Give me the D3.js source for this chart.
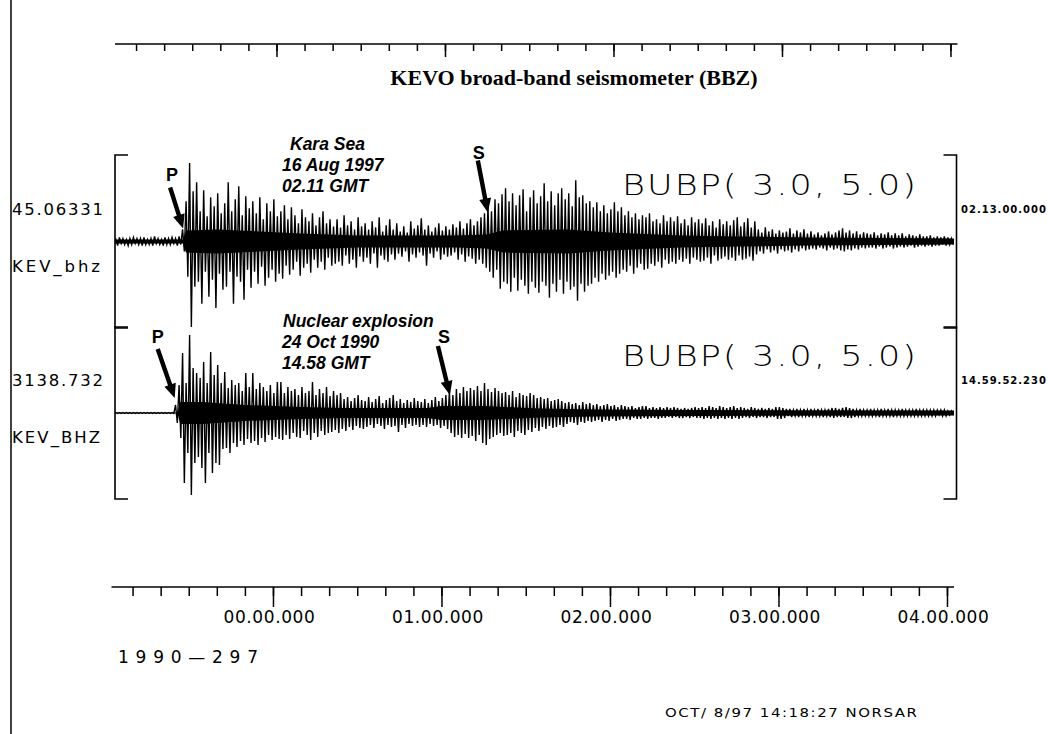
<!DOCTYPE html>
<html>
<head>
<meta charset="utf-8">
<script src="https://cdnjs.cloudflare.com/ajax/libs/d3/7.8.5/d3.min.js"></script>
<style>
body { margin: 0; background: #fff; }
svg { display: block; }
</style>
</head>
<body>
<div id="chart"></div>
<script>
// time in seconds relative to 00.00.000, one bin = 1.25 s (8 bins per 10 s line below)
var timeStart = -57.5, timeEnd = 242.5, binSec = 1.25;
var tickMinor = d3.range(-50, 241, 10);
var tickMajor = [0, 60, 120, 180, 240];

// Kara Sea, 16 Aug 1997 (KEV_bhz) - max / min of each bin, relative amplitude
var karaUp = [
    3,2,4,3,2,3,4,3,  3,4,2,3,5,3,2,4,  3,4,3,5,12,40,78,50,
    59,30,51,25,44,35,48,28,  38,59,30,42,55,26,45,33,  40,28,44,22,38,30,42,25,
    30,36,22,34,26,18,32,24,  20,28,16,24,30,18,22,15,  22,14,26,16,20,12,24,15,
    18,12,20,14,24,10,16,22,  12,18,10,15,9,20,13,16,  23,12,16,10,14,18,11,15,
    12,17,14,20,13,18,22,16,  20,24,28,35,30,42,38,47,  53,40,48,36,46,52,30,44,
    51,38,45,58,40,50,36,48,  53,42,48,35,61,44,46,38,  40,34,39,30,36,28,32,39,
    30,34,26,30,24,28,22,26,  24,28,20,22,18,26,20,24,  20,25,18,22,16,24,19,22,
    18,23,16,20,14,22,17,20,  16,21,24,15,19,23,14,20,  12,9,14,10,12,8,11,9,
    10,13,8,11,9,12,8,10,  7,9,6,8,10,7,9,11,  13,9,11,8,10,7,9,8,
    7,9,6,8,7,9,6,8,  6,8,5,7,6,5,7,5,  5,6,4,5,4,5,4,3];
var karaDn = [
    -3,-4,-2,-3,-4,-3,-2,-3,  -4,-3,-3,-4,-2,-3,-4,-3,  -3,-2,-4,-3,-10,-35,-85,-45,
    -40,-62,-30,-55,-38,-66,-32,-48,  -45,-30,-62,-35,-40,-58,-28,-46,  -30,-42,-25,-44,-36,-28,-40,-32,
    -37,-24,-33,-28,-20,-34,-26,-22,  -31,-18,-26,-20,-28,-16,-24,-22,  -20,-24,-14,-22,-18,-26,-15,-20,
    -16,-22,-12,-26,-14,-18,-20,-13,  -18,-12,-15,-10,-20,-13,-16,-11,  -14,-24,-12,-16,-10,-18,-13,-15,
    -14,-11,-18,-13,-20,-15,-17,-22,  -18,-22,-26,-30,-36,-28,-47,-40,  -42,-50,-36,-49,-38,-44,-52,-40,
    -46,-51,-40,-44,-56,-42,-50,-38,  -52,-40,-48,-45,-59,-42,-50,-44,  -42,-36,-40,-32,-38,-34,-30,-36,
    -32,-28,-30,-24,-32,-26,-22,-28,  -27,-22,-24,-20,-26,-18,-22,-20,  -22,-18,-20,-17,-22,-16,-18,-20,
    -19,-16,-22,-14,-19,-17,-15,-18,  -16,-19,-14,-18,-17,-15,-19,-13,  -10,-12,-8,-11,-9,-12,-8,-10,
    -9,-11,-8,-10,-7,-9,-8,-7,  -8,-6,-7,-9,-6,-8,-7,-9,  -10,-8,-9,-7,-8,-6,-7,-6,
    -6,-7,-5,-7,-6,-5,-7,-6,  -5,-6,-5,-4,-6,-5,-4,-5,  -4,-5,-4,-4,-3,-4,-3,-3];
// dense band around the trace baseline (half width)
var karaCoreT = [-57.5, -32, -31, -20, -5, 10, 30, 65, 76, 82, 105, 120, 145, 165, 190, 215, 242.5];
var karaCoreA = [2, 2, 11, 12, 10, 8, 6, 6, 7, 11, 12, 9, 6, 5, 4, 3.5, 3];

// Nuclear explosion, 24 Oct 1990 (KEV_BHZ)
var nucUp = [
    0.5,0.5,0.5,0.5,0.5,0.5,0.5,0.5,  0.5,0.5,0.5,0.5,0.5,0.5,0.5,0.5,  0.5,0.5,8,28,60,30,78,45,
    40,35,51,30,61,38,48,30,  41,25,33,28,30,22,40,26,  40,24,30,26,22,28,20,31,
    31,20,26,22,24,18,26,20,  22,31,18,24,20,26,17,22,  18,20,14,16,12,15,18,13,
    12,16,11,14,17,10,13,15,  18,12,14,10,13,11,15,12,  11,14,10,13,16,12,15,18,
    22,18,24,20,26,22,25,23,  27,22,30,24,21,25,22,20,  21,18,22,16,20,18,17,20,
    18,15,16,14,15,12,13,14,  12,10,11,9,10,8,11,9,  10,8,9,7,8,9,7,8,
    6,8,7,6,7,5,6,7,  7,5,6,5,6,5,6,5,  6,5,4,5,4,5,6,5,
    6,5,7,6,5,7,6,5,  6,7,5,6,5,4,6,5,  4,5,4,5,4,6,6,5,
    4,4,3,4,3,4,3,4,  3,4,3,3,4,5,5,4,  5,6,5,4,3,4,3,3,
    4,3,3,4,3,4,3,3,  3,4,3,3,3,4,3,3,  3,3,3,3,3,3,2,2];
var nucDn = [
    -0.5,-0.5,-0.5,-0.5,-0.5,-0.5,-0.5,-0.5,  -0.5,-0.5,-0.5,-0.5,-0.5,-0.5,-0.5,-0.5,  -0.5,-0.5,-10,-25,-70,-40,-82,-50,
    -44,-55,-70,-40,-60,-50,-52,-36,  -35,-40,-30,-34,-28,-32,-26,-30,  -28,-32,-25,-29,-22,-27,-24,-26,
    -27,-22,-26,-20,-24,-25,-18,-22,  -27,-20,-24,-18,-22,-20,-19,-17,  -20,-16,-18,-14,-17,-13,-15,-16,
    -14,-12,-15,-11,-13,-16,-12,-14,  -13,-19,-12,-15,-11,-13,-12,-14,  -12,-14,-11,-13,-12,-15,-13,-16,
    -20,-24,-22,-25,-21,-25,-23,-28,  -22,-30,-32,-26,-24,-22,-20,-23,  -22,-20,-24,-18,-20,-22,-17,-19,
    -15,-18,-14,-16,-13,-15,-14,-12,  -14,-11,-9,-10,-12,-9,-10,-8,  -9,-8,-7,-9,-7,-8,-6,-8,
    -7,-6,-6,-7,-5,-6,-6,-5,  -6,-5,-5,-6,-5,-5,-4,-5,  -4,-5,-5,-4,-5,-4,-5,-5,
    -6,-5,-6,-5,-6,-5,-6,-5,  -6,-5,-6,-5,-4,-5,-4,-5,  -4,-4,-5,-4,-4,-6,-6,-5,
    -3,-4,-3,-4,-3,-3,-4,-3,  -3,-3,-4,-3,-4,-5,-4,-4,  -4,-5,-5,-4,-3,-3,-3,-3,
    -3,-3,-4,-3,-3,-3,-4,-3,  -3,-3,-3,-3,-3,-3,-3,-3,  -3,-3,-3,-2,-3,-3,-2,-2];
var nucCoreT = [-57.5, -34, -33, -25, -10, 10, 25, 55, 60, 75, 95, 115, 150, 242.5];
var nucCoreA = [0.5, 0.5, 11, 11, 8, 6, 5, 5, 7, 7, 4.5, 3.5, 3, 2.5];

// phase picks (s)
var karaPicks = [{phase: "P", t: -32}, {phase: "S", t: 76.5}];
var nucPicks = [{phase: "P", t: -35}, {phase: "S", t: 63}];

var W = 1048, H = 734;
var ampMax = 86;

var svg = d3.select("#chart").append("svg")
    .attr("width", W)
    .attr("height", H);

var x = d3.scaleLinear().domain([timeStart, timeEnd]).range([111.5, 954]);
var xTop = d3.scaleLinear().domain([timeStart, timeEnd]).range([115, 957.5]);

// frame
svg.append("line").attr("x1", 11).attr("x2", 11).attr("y1", 0).attr("y2", H)
    .attr("stroke", "#000").attr("stroke-width", 1.5);

// title
svg.append("text")
    .attr("x", 574).attr("y", 85)
    .attr("text-anchor", "middle")
    .style("font-family", "'Liberation Serif', 'Times New Roman', serif")
    .style("font-weight", "bold")
    .style("font-size", "22px")
    .text("KEVO broad-band seismometer (BBZ)");

function fmtTime(t) {
    var m = Math.floor(t / 60), s = t - m * 60;
    return d3.format("02d")(m) + "." + d3.format("02d")(s) + ".000";
}

function drawAxis(scale, y, minorLen, majorLen, labels) {
    var g = svg.append("g").attr("transform", "translate(0," + y + ")");
    g.append("g")
        .call(d3.axisBottom(scale).tickValues(tickMinor).tickSize(minorLen).tickSizeOuter(0).tickFormat(""))
        .call(function(a) { a.select(".domain").remove(); a.selectAll(".tick line").attr("stroke-width", 1.5); });
    var major = g.append("g")
        .call(d3.axisBottom(scale).tickValues(tickMajor).tickSize(majorLen).tickSizeOuter(0)
            .tickFormat(labels ? fmtTime : ""));
    major.select(".domain").remove();
    major.selectAll(".tick line").attr("stroke-width", 1.5);
    major.selectAll(".tick text")
        .attr("dy", 0).attr("y", majorLen + 16).attr("x", -4)
        .style("font-family", "'DejaVu Sans', sans-serif")
        .style("font-size", "17px")
        .style("letter-spacing", "0.6px");
    return g;
}

// axis line spans the whole window
function axisLine(scale, y) {
    svg.append("line")
        .attr("x1", scale(timeStart)).attr("x2", scale(timeEnd))
        .attr("y1", y).attr("y2", y)
        .attr("stroke", "#000").attr("stroke-width", 1.6);
}

axisLine(xTop, 44);
drawAxis(xTop, 44, 7, 13, false);
axisLine(x, 587);
drawAxis(x, 587, 9, 20, true);

function wideText(g, xPos, yPos, str, size, width, stretch) {
    return g.append("text")
        .attr("transform", "translate(" + xPos + "," + yPos + ") scale(" + stretch + ",1)")
        .attr("textLength", width / stretch).attr("lengthAdjust", "spacing")
        .style("font-family", "'DejaVu Sans', sans-serif")
        .style("font-size", size + "px")
        .text(str);
}

function drawTrace(opt) {
    var y = d3.scaleLinear().domain([-ampMax, ampMax]).range([opt.bottom, opt.top]);
    var g = svg.append("g");

    // brackets
    var bx0 = 115, bx1 = 956.5;
    g.append("path")
        .attr("d", "M" + (bx0 + 13) + "," + opt.top + "H" + bx0 + "V" + opt.bottom + "H" + (bx0 + 13))
        .attr("fill", "none").attr("stroke", "#000").attr("stroke-width", 1.6);
    g.append("path")
        .attr("d", "M" + (bx1 - 13) + "," + opt.top + "H" + bx1 + "V" + opt.bottom + "H" + (bx1 - 13))
        .attr("fill", "none").attr("stroke", "#000").attr("stroke-width", 1.6);

    var clipId = "clip" + opt.id;
    svg.append("clipPath").attr("id", clipId)
        .append("rect").attr("x", bx0).attr("y", 0).attr("width", bx1 - bx0).attr("height", H);
    var tg = g.append("g").attr("clip-path", "url(#" + clipId + ")");

    // dense band
    tg.append("path")
        .datum(opt.coreT.map(function(t, i) { return [t, opt.coreA[i]]; }))
        .attr("fill", "#000")
        .attr("d", d3.area()
            .x(function(d) { return x(d[0]); })
            .y0(function(d) { return y(-d[1]); })
            .y1(function(d) { return y(d[1]); }));

    var pts = [];
    opt.up.forEach(function(u, i) {
        var t0 = timeStart + i * binSec;
        pts.push([t0 + 0.25 * binSec, u]);
        pts.push([t0 + 0.75 * binSec, opt.dn[i]]);
    });
    tg.append("path")
        .datum(pts)
        .attr("fill", "none")
        .attr("stroke", "#000")
        .attr("stroke-width", 1.4)
        .attr("d", d3.line()
            .x(function(d) { return x(d[0]); })
            .y(function(d) { return y(d[1]); }));

    // labels
    wideText(g, 12, opt.scaleY, opt.scaleLabel, 15, 91, 1.1);
    wideText(g, 12, opt.scaleY + 57, opt.name, 15, 88, 1.1);
    g.append("text").attr("x", 961).attr("y", opt.scaleY - 2)
        .attr("textLength", 85).attr("lengthAdjust", "spacing")
        .style("font-family", "'DejaVu Sans', sans-serif").style("font-size", "10px").style("font-weight", "bold")
        .text(opt.startTime);
    wideText(g, 622, opt.filterY, "BUBP( 3.0, 5.0)", 28, 294, 1.25)
        .style("font-weight", 200);

    // event info
    var info = g.append("text")
        .style("font-family", "'Liberation Sans', Arial, sans-serif")
        .style("font-style", "italic")
        .style("font-weight", "bold")
        .style("font-size", "17.5px");
    opt.info.forEach(function(s, i) {
        info.append("tspan").attr("x", i === 0 ? opt.infoX0 : 282).attr("y", opt.infoY + i * 21).text(s);
    });

    // phase arrows
    opt.picks.forEach(function(p, i) {
        var a = opt.arrows[i];
        var tx = x(p.t), ty = y(0) - a.rise;
        var sx = tx + a.dx, sy = ty + a.dy;
        g.append("path").attr("d", arrowPath(sx, sy, tx, ty)).attr("fill", "#000");
        g.append("text").attr("x", sx + a.lx).attr("y", sy + a.ly)
            .attr("text-anchor", "middle")
            .style("font-family", "'Liberation Sans', Arial, sans-serif")
            .style("font-weight", "bold").style("font-size", "18px")
            .text(p.phase);
    });
}

function arrowPath(x1, y1, x2, y2) {
    var dx = x2 - x1, dy = y2 - y1, len = Math.sqrt(dx * dx + dy * dy);
    var ux = dx / len, uy = dy / len, nx = -uy, ny = ux;
    var hl = 14, sw = 2.2, hw = 6;
    var bx = x2 - ux * hl, by = y2 - uy * hl;
    var p = [
        [x1 + nx * sw, y1 + ny * sw], [bx + nx * sw, by + ny * sw], [bx + nx * hw, by + ny * hw],
        [x2, y2],
        [bx - nx * hw, by - ny * hw], [bx - nx * sw, by - ny * sw], [x1 - nx * sw, y1 - ny * sw]
    ];
    return "M" + p.map(function(d) { return d.join(","); }).join("L") + "Z";
}

drawTrace({
    id: 1, top: 155, bottom: 328,
    up: karaUp, dn: karaDn, coreT: karaCoreT, coreA: karaCoreA,
    scaleLabel: "45.06331", name: "KEV_bhz", scaleY: 215,
    startTime: "02.13.00.000", filterY: 195,
    info: ["Kara Sea", "16 Aug 1997", "02.11 GMT"], infoX0: 290, infoY: 150,
    picks: karaPicks,
    arrows: [{rise: 13, dx: -13, dy: -41, lx: 2, ly: -7}, {rise: 29, dx: -10, dy: -52, lx: 1, ly: -2}]
});

drawTrace({
    id: 2, top: 327, bottom: 499,
    up: nucUp, dn: nucDn, coreT: nucCoreT, coreA: nucCoreA,
    scaleLabel: "3138.732", name: "KEV_BHZ", scaleY: 386,
    startTime: "14.59.52.230", filterY: 366,
    info: ["Nuclear explosion", "24 Oct 1990", "14.58 GMT"], infoX0: 283, infoY: 327,
    picks: nucPicks,
    arrows: [{rise: 15, dx: -17, dy: -49, lx: 0, ly: -6}, {rise: 18, dx: -12, dy: -49, lx: 6, ly: -3}]
});

// bottom labels
svg.append("text").attr("x", 118).attr("y", 663)
    .attr("textLength", 140).attr("lengthAdjust", "spacing")
    .style("font-family", "'DejaVu Sans', sans-serif").style("font-size", "17px")
    .text("1990\u2014297");
wideText(svg, 665, 717, "OCT/ 8/97 14:18:27 NORSAR", 13, 252, 1.15);
</script>
</body>
</html>
